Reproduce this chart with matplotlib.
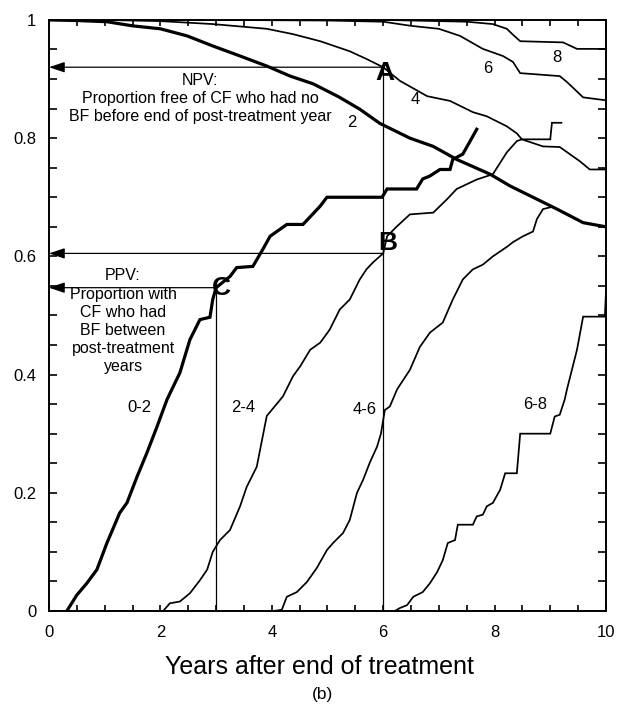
import matplotlib
matplotlib.use("Agg")
import matplotlib.pyplot as plt
from matplotlib.ticker import MultipleLocator

plt.rcParams["font.family"] = ["Liberation Sans", "DejaVu Sans"]

# Negative predictive value curves (proportion free of CF), by post-treatment year
npv2_x = [0, 0.5, 1.04, 1.5, 2.0, 2.48, 2.94, 3.43, 3.91, 4.33, 4.74, 5.2, 5.58, 5.94,
          6.48, 6.9, 7.32, 7.92, 8.28, 8.69, 9.12, 9.59, 10]
npv2_y = [1.0, 0.999, 0.997, 0.99, 0.985, 0.973, 0.956, 0.939, 0.922, 0.905, 0.892, 0.87,
          0.849, 0.825, 0.80, 0.786, 0.764, 0.739, 0.719, 0.70, 0.68, 0.657, 0.65]

npv4_x = [0, 1.0, 2.0, 2.94, 3.91, 4.38, 4.87, 5.4, 5.7, 6.0, 6.3, 6.79, 7.2, 7.61, 7.86,
          8.22, 8.4, 8.49, 8.87, 9.17, 9.35, 9.53, 9.71, 10]
npv4_y = [1.0, 1.0, 0.998, 0.993, 0.985, 0.976, 0.964, 0.947, 0.934, 0.92, 0.897, 0.871,
          0.863, 0.844, 0.837, 0.82, 0.808, 0.798, 0.786, 0.785, 0.773, 0.761, 0.747, 0.747]

npv6_x = [0, 3.0, 5.0, 6.0, 6.5, 7.0, 7.38, 7.79, 8.15, 8.33, 8.46, 9.17, 9.3, 9.59, 10]
npv6_y = [1.0, 1.0, 0.999, 0.997, 0.99, 0.985, 0.973, 0.951, 0.939, 0.929, 0.91, 0.905,
          0.895, 0.869, 0.864]

npv8_x = [0, 6.0, 7.5, 7.97, 8.22, 8.33, 8.46, 9.23, 9.48, 10]
npv8_y = [1.0, 1.0, 0.997, 0.993, 0.985, 0.975, 0.964, 0.962, 0.951, 0.951]

# Positive predictive value curves (proportion with CF), by BF interval
ppv02_x = [0.32, 0.5, 0.68, 0.86, 1.04, 1.27, 1.4, 1.58, 1.76, 1.94, 2.12, 2.35, 2.53,
           2.71, 2.89, 2.94, 3.0, 3.25, 3.37, 3.66, 3.84, 3.97, 4.27, 4.56, 4.87, 4.99,
           5.98, 6.07, 6.6, 6.71, 6.84, 7.02, 7.2, 7.25, 7.43, 7.68]
ppv02_y = [0.0, 0.027, 0.047, 0.07, 0.115, 0.166, 0.183, 0.227, 0.268, 0.312, 0.358,
           0.403, 0.459, 0.493, 0.497, 0.527, 0.547, 0.566, 0.581, 0.583, 0.612, 0.634,
           0.654, 0.654, 0.685, 0.70, 0.70, 0.714, 0.714, 0.731, 0.736, 0.747, 0.747,
           0.764, 0.773, 0.815]

ppv24_x = [2.05, 2.17, 2.35, 2.53, 2.71, 2.84, 2.94, 3.07, 3.25, 3.43, 3.55, 3.73, 3.91,
           4.2, 4.38, 4.51, 4.69, 4.87, 5.04, 5.22, 5.4, 5.58, 5.7, 5.82, 6.0, 6.07, 6.25,
           6.48, 6.9, 7.15, 7.32, 7.68, 7.97, 8.22, 8.4, 8.49, 9.0, 9.03, 9.2]
ppv24_y = [0.0, 0.013, 0.016, 0.03, 0.052, 0.07, 0.1, 0.12, 0.137, 0.177, 0.21, 0.244,
           0.33, 0.363, 0.397, 0.414, 0.442, 0.454, 0.476, 0.51, 0.527, 0.561, 0.578,
           0.59, 0.605, 0.634, 0.651, 0.671, 0.674, 0.697, 0.714, 0.73, 0.739, 0.776,
           0.795, 0.798, 0.798, 0.826, 0.826]

ppv46_x = [4.03, 4.18, 4.27, 4.45, 4.63, 4.81, 4.99, 5.1, 5.28, 5.4, 5.53, 5.64, 5.76,
           5.89, 5.96, 6.03, 6.12, 6.25, 6.48, 6.66, 6.84, 7.07, 7.25, 7.43, 7.61, 7.79,
           7.97, 8.22, 8.33, 8.51, 8.69, 8.76, 8.87, 9.0]
ppv46_y = [0.0, 0.002, 0.024, 0.032, 0.049, 0.073, 0.103, 0.115, 0.132, 0.154, 0.2,
           0.222, 0.251, 0.278, 0.30, 0.34, 0.346, 0.375, 0.408, 0.447, 0.471, 0.488,
           0.527, 0.561, 0.578, 0.586, 0.60, 0.616, 0.624, 0.634, 0.642, 0.663, 0.68, 0.683]

ppv68_x = [6.21, 6.3, 6.43, 6.54, 6.71, 6.84, 6.97, 7.07, 7.16, 7.29, 7.34, 7.61, 7.68,
           7.79, 7.86, 7.97, 8.1, 8.19, 8.4, 8.46, 9.0, 9.08, 9.17, 9.26, 9.3, 9.48, 9.59,
           9.98, 10.0]
ppv68_y = [0.0, 0.005, 0.01, 0.024, 0.032, 0.047, 0.066, 0.086, 0.115, 0.12, 0.146,
           0.146, 0.16, 0.163, 0.177, 0.183, 0.205, 0.233, 0.233, 0.30, 0.30, 0.329,
           0.332, 0.358, 0.375, 0.442, 0.498, 0.498, 0.539]

# Worked readings: A (NPV at 6 years), B (PPV 2-4 at 6 years), C (PPV 0-2 at 3 years)
point_A = (6.0, 0.92)
point_B = (6.0, 0.605)
point_C = (3.0, 0.547)

fig = plt.figure(figsize=(6.17, 7.07), dpi=100)
ax = fig.add_axes([0.0794, 0.1358, 0.9027, 0.836])

thick, thin = 2.3, 1.25
for xs, ys, lw in [(npv2_x, npv2_y, thick), (npv4_x, npv4_y, thin),
                   (npv6_x, npv6_y, thin), (npv8_x, npv8_y, thin),
                   (ppv02_x, ppv02_y, thick), (ppv24_x, ppv24_y, thin),
                   (ppv46_x, ppv46_y, thin), (ppv68_x, ppv68_y, thin)]:
    ax.plot(xs, ys, color="black", lw=lw, solid_joinstyle="miter", zorder=3)

# Reading lines: vertical drop to the x axis and arrow back to the y axis
ref_lw = 0.9
for (px, py), drop in [(point_A, True), (point_B, False), (point_C, True)]:
    if drop:
        ax.plot([px, px], [0, py], color="black", lw=ref_lw, zorder=2)
    ax.annotate("", xy=(0, py), xytext=(px, py),
                arrowprops=dict(arrowstyle="-|>,head_length=0.95,head_width=0.32",
                                color="black", lw=ref_lw, shrinkA=0, shrinkB=0),
                zorder=2, annotation_clip=False)

lab_kw = dict(fontsize=19, fontweight="bold", ha="center", va="center", zorder=4)
ax.text(6.03, 0.910, "A", **lab_kw)
ax.text(6.09, 0.622, "B", **lab_kw)
ax.text(3.09, 0.547, "C", **lab_kw)

ax.text(2.71, 0.867, "NPV:\nProportion free of CF who had no\nBF before end of post-treatment year",
        fontsize=11.5, ha="center", va="center", linespacing=1.25)
ax.text(1.33, 0.490, "PPV:\nProportion with\nCF who had\nBF between\npost-treatment\nyears",
        fontsize=11.5, ha="center", va="center", linespacing=1.27)

curve_kw = dict(fontsize=12, ha="center", va="center")
for x, y, s in [(5.44, 0.827, "2"), (6.57, 0.866, "4"), (7.88, 0.917, "6"),
                (9.12, 0.937, "8"), (1.63, 0.344, "0-2"), (3.48, 0.344, "2-4"),
                (5.67, 0.341, "4-6"), (8.73, 0.349, "6-8")]:
    ax.text(x, y, s, **curve_kw)

ax.set_xlim(0, 10)
ax.set_ylim(0, 1)
ax.xaxis.set_major_locator(MultipleLocator(2))
ax.xaxis.set_minor_locator(MultipleLocator(0.5))
ax.yaxis.set_major_locator(MultipleLocator(0.2))
ax.yaxis.set_minor_locator(MultipleLocator(0.05))
ax.xaxis.set_major_formatter(plt.FuncFormatter(lambda v, p: f"{v:g}"))
ax.yaxis.set_major_formatter(plt.FuncFormatter(lambda v, p: f"{v:g}"))

ax.tick_params(axis="both", which="both", direction="in", top=True, right=True,
               width=1.2, labelsize=12, color="black")
ax.tick_params(axis="x", which="both", length=4, pad=10)
ax.tick_params(axis="y", which="both", length=6, pad=9)
for sp in ax.spines.values():
    sp.set_linewidth(1.4)

fig.text(0.518, 1 - 674 / 707, "Years after end of treatment", fontsize=18,
         ha="center", va="baseline")
fig.text(0.522, 1 - 694 / 707, "(b)", fontsize=12.5, ha="center", va="center")

fig.savefig("out.png", dpi=100)
